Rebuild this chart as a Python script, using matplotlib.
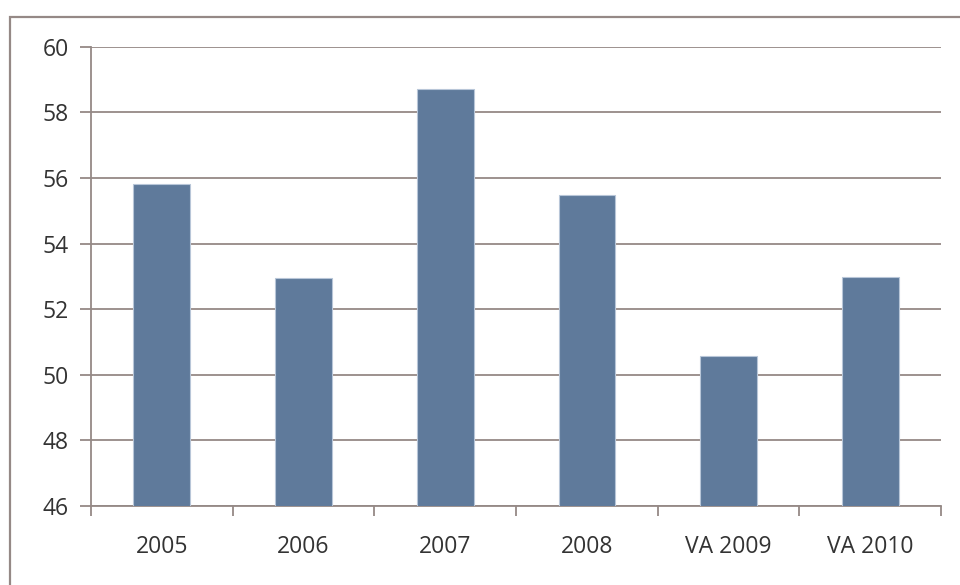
import matplotlib.pyplot as plt
import matplotlib.patches as patches
import numpy as np

categories = ['2005', '2006', '2007', '2008', 'VA 2009', 'VA 2010']
values = [55.83, 52.95, 58.72, 55.47, 50.56, 52.97]
yticks = [46, 48, 50, 52, 54, 56, 58, 60]

line_col = '#958986'
bar_col = '#5f7a9b'
text_col = '#333333'

W, H = 960, 585
fig = plt.figure(figsize=(W / 100, H / 100), dpi=100)
fig.patch.set_facecolor('white')

# outer chart-area border (clipped by image edges on right/bottom)
fig.patches.append(patches.Rectangle((10 / W, 0 - 0.01), 1.0, 1 - 17 / H + 0.01,
                                     transform=fig.transFigure, fill=False,
                                     edgecolor=line_col, linewidth=1.6))

left, right, top, bottom = 91, 941, 46.7, 506
ax = fig.add_axes([left / W, 1 - bottom / H, (right - left) / W, (bottom - top) / H])

x = np.arange(len(categories))
ax.bar(x, values, width=0.4, color=bar_col, edgecolor='#b8c6d8', linewidth=0.8,
       bottom=0, zorder=3)

ax.set_xlim(-0.5, len(categories) - 0.5)
ax.set_ylim(46, 60)
ax.set_yticks(yticks)
ax.set_yticklabels([str(v) for v in yticks])
ax.yaxis.grid(True, color=line_col, linewidth=1.3, zorder=0)

# category boundary ticks on x axis, labels centred on bars
ax.set_xticks(np.arange(-0.5, len(categories), 1.0))
ax.set_xticklabels([])
ax.set_xticks(x, minor=True)
ax.set_xticklabels(categories, minor=True)
ax.tick_params(axis='x', which='major', direction='out', length=7, width=1.3,
               color=line_col)
ax.tick_params(axis='x', which='minor', length=0, pad=21, labelsize=16.5,
               labelcolor=text_col)
ax.tick_params(axis='y', direction='out', length=8, width=1.3, color=line_col,
               pad=8, labelsize=16.5, labelcolor=text_col)

for lab in ax.get_xticklabels(minor=True) + ax.get_yticklabels():
    lab.set_family('Open Sans')

for s in ['top', 'right']:
    ax.spines[s].set_visible(False)
for s in ['left', 'bottom']:
    ax.spines[s].set_color(line_col)
    ax.spines[s].set_linewidth(1.3)

plt.savefig('out.png', dpi=100)
